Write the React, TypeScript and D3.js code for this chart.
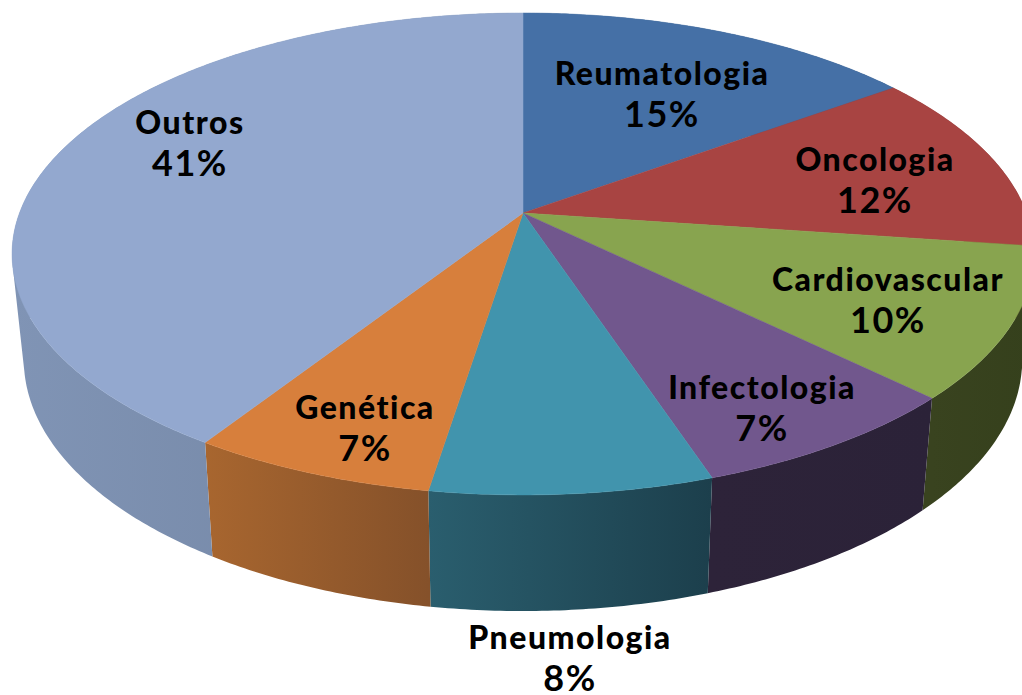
import * as d3 from "d3";

const categories = ["Reumatologia", "Oncologia", "Cardiovascular", "Infectologia", "Pneumologia", "Genética", "Outros"];
// slice sizes as they appear on the picture, printed labels are below
const sliceValues = [15, 12.2, 10.1, 7.6, 7.6, 6.6, 40.9];
const percentLabels = ["15%", "12%", "10%", "7%", "8%", "7%", "41%"];
const topColors = ["#4570a6", "#a84442", "#88a44f", "#71578d", "#4194ad", "#d77f3c", "#93a8cf"];
const wallLeft = ["#3a5f8c", "#7c3231", "#39431f", "#2d2339", "#2a5e6e", "#a8662f", "#8094b5"];
const wallRight = ["#2a4566", "#5c2423", "#35401c", "#2b2238", "#1c3f4c", "#85512a", "#70829f"];
const labelCenters = [
  [662, 74], [875, 160], [888, 280], [762, 388], [570, 638], [365, 408], [190, 123],
];

const width = 1022;
const height = 695;
const cx = 523;
const cy = 213;
const radiusX = 503.5;
const radiusY = 234;
const tilt = 0.17;
const shrink = 0.977;
const wallOffset = 104;
const wallStretch = 1.043;

// circle -> screen, with the near side of the pie bigger
const project = (angle: number): [number, number] => {
  const u = Math.sin(angle);
  const v = -Math.cos(angle);
  const w = 1 - v * tilt;
  return [cx + (radiusX * u) / w, cy + (radiusY * v) / w];
};
const toBottom = ([x, y]: [number, number]): [number, number] => [
  cx + (x - cx) * shrink,
  cy + wallOffset + (y - cy) * wallStretch,
];

const line = d3.line().curve(d3.curveLinear);
const arcs = d3.pie<number>().sort(null)(sliceValues);

const rim = (a: { startAngle: number; endAngle: number }) => {
  const steps = Math.ceil((a.endAngle - a.startAngle) / 0.01);
  const scale = d3.scaleLinear().domain([0, steps]).range([a.startAngle, a.endAngle]);
  return d3.range(steps + 1).map((i) => project(scale(i)));
};

// the wall folds over itself at the left and right ends, so it is built from
// small quads that all wind the same way
const wallPath = (top: [number, number][]) =>
  d3
    .pairs(top)
    .map(([p, q]) => {
      const quad: [number, number][] = [p, q, toBottom(q), toBottom(p)];
      if (d3.polygonArea(quad) < 0) quad.reverse();
      return line(quad) + "Z";
    })
    .join("");

export default function App() {
  return (
    <svg
      width={width}
      height={height}
      style={{ position: "absolute", left: 0, top: 0, background: "#fff" }}
      fontFamily="Lato, 'Open Sans', sans-serif"
    >
      <defs>
        {arcs.map((a, i) => {
          const xs = rim(a).map((p) => p[0]);
          return (
            <linearGradient
              key={i}
              id={`wall${i}`}
              gradientUnits="userSpaceOnUse"
              x1={d3.min(xs)}
              x2={d3.max(xs)}
              y1={0}
              y2={0}
            >
              <stop offset="0" stopColor={wallLeft[i]} />
              <stop offset="1" stopColor={wallRight[i]} />
            </linearGradient>
          );
        })}
      </defs>
      {arcs.map((a, i) => (
        <path key={i} d={wallPath(rim(a))} fill={`url(#wall${i})`} />
      ))}
      {arcs.map((a, i) => (
        <path key={i} d={line([[cx, cy], ...rim(a)]) + "Z"} fill={topColors[i]} stroke={topColors[i]} strokeWidth={0.5} />
      ))}
      {categories.map((c, i) => (
        <g key={c} textAnchor="middle" fill="#000">
          <text x={labelCenters[i][0]} y={labelCenters[i][1] + 11} fontSize={32} fontWeight={900} letterSpacing={1.5}>
            {c}
          </text>
          <text x={labelCenters[i][0]} y={labelCenters[i][1] + 53} fontSize={36} fontWeight={700} letterSpacing={1.5}>
            {percentLabels[i]}
          </text>
        </g>
      ))}
    </svg>
  );
}
